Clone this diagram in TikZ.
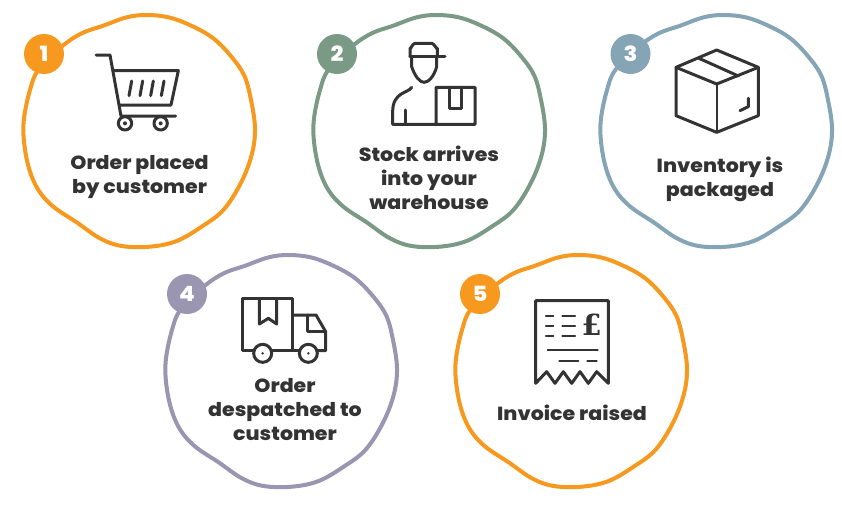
\documentclass[tikz,border=0pt]{standalone}
\usepackage{fontspec}
\setmainfont{Poppins}[BoldFont={Poppins ExtraBold},BoldFeatures={FakeStretch=1.08}]
\newfontfamily\poundfont{DejaVu Serif}
\definecolor{cOrange}{HTML}{F7981F}
\definecolor{cGreen}{HTML}{7A9A86}
\definecolor{cBlue}{HTML}{85A4B6}
\definecolor{cPurple}{HTML}{9A95B0}
\definecolor{cDark}{HTML}{333333}
\newcommand{\blobpath}{plot[smooth cycle,tension=0.6] coordinates {(155,125)(215,85)(280,62)(350,37)(410,30)(480,38)(550,65)(610,100)(660,150)(702,210)(722,280)(735,370)(725,450)(692,535)(640,615)(575,665)(500,708)(420,725)(335,723)(270,700)(200,652)(130,605)(85,555)(57,490)(42,410)(42,340)(60,255)(85,195)}}
\tikzset{
  px/.style={x=1pt,y=-1pt},
  zm/.style={x=0.33333pt,y=-0.33333pt},
  blobline/.style={line width=4pt,line join=round},
  icon/.style={draw=cDark,line width=3pt,line join=round,line cap=round},
  thin icon/.style={draw=cDark,line width=2.2pt,line join=round,line cap=round},
  label/.style={text=cDark,align=center,font=\fontsize{19}{24}\selectfont\bfseries,inner sep=0pt},
  badge/.style={circle,minimum size=40pt,inner sep=0pt,text=white,font=\fontsize{21}{21}\selectfont\bfseries}
}
\begin{document}
\begin{tikzpicture}[px]
\useasboundingbox (0,0) rectangle (842,506);
% blobs
\draw[zm,xshift=10pt,yshift=-5pt,blobline,cOrange] \blobpath;
\draw[zm,xshift=300pt,yshift=-5pt,blobline,cGreen] \blobpath;
\draw[zm,xshift=587pt,yshift=-5pt,blobline,cBlue] \blobpath;
\draw[zm,xshift=152pt,yshift=-245pt,blobline,cPurple] \blobpath;
\draw[zm,xshift=442pt,yshift=-245pt,blobline,cOrange] \blobpath;
% badges
\node[badge,fill=cOrange] (b1) at (44,54) {1};
\node[badge,fill=cGreen] (b2) at (337,54) {2};
\node[badge,fill=cBlue] (b3) at (630.5,54) {3};
\node[badge,fill=cPurple] (b4) at (187,294) {4};
\node[badge,fill=cOrange] (b5) at (480,294) {5};
% labels
\node[label] (t1) at (139.5,177.5) {Order placed\\by customer};
\node[label] (t2) at (429,178) {Stock arrives\\into your\\warehouse};
\node[label] (t3) at (720,179.5) {Inventory is\\packaged};
\node[label] (t4) at (285,410) {Order\\despatched to\\customer};
\node[label] (t5) at (572,413) {Invoice raised};
% cart
\begin{scope}[zm,xshift=10pt,yshift=-5pt]
\draw[icon] (258,150)--(300,150)--(333,333)--(497,333);
\draw[icon] (310,197)--(505,197)--(483,300)--(330,300);
\foreach \a in {365,398,430,462} \draw[icon] (\a,228)--(\a-8,272);
\foreach \a in {345,452} {\draw[icon,fill=white] (\a,355) circle (20); \fill[cDark] (\a,355) circle (6);}
\end{scope}
% worker
\begin{scope}[zm,xshift=300pt,yshift=-5pt]
\draw[icon] (330,155)--(330,130) to[out=-90,in=180] (345,115)--(395,115) to[out=0,in=-90] (412,130)--(412,155);
\draw[icon] (330,155)--(435,155);
\draw[icon] (335,155)--(335,185) .. controls (345,215) and (360,232) .. (372,232) .. controls (385,232) and (402,215) .. (410,185)--(410,155);
\draw[icon] (335,247) .. controls (325,265) and (278,260) .. (278,320)--(278,358)--(525,358)--(525,247)--(408,247)--(408,358);
\draw[icon] (317,315)--(317,358);
\draw[icon] (447,247)--(447,310)--(485,310)--(485,247);
\end{scope}
% box
\begin{scope}[zm,xshift=590pt,yshift=-5pt]
\draw[icon] (380,135)--(505,187)--(505,332)--(380,382)--(258,332)--(258,187)--cycle;
\draw[icon] (258,187)--(380,237)--(505,187);
\draw[thin icon] (380,237)--(380,382);
\draw[icon] (327,160)--(445,213);
\draw[icon] (475,280)--(475,305)--(450,317);
\end{scope}
% truck
\begin{scope}[zm,xshift=155pt,yshift=-250pt]
\draw[icon] (297,302)--(263,302)--(263,145)--(413,145)--(413,302);
\draw[icon] (350,302)--(433,302);
\draw[icon] (413,195)--(483,195)--(512,245)--(512,302)--(487,302);
\draw[icon] (457,195)--(457,245)--(512,245);
\draw[icon] (313,145)--(313,222)--(340,205)--(365,222)--(365,145);
\foreach \a in {323,460} {\draw[icon] (\a,310) circle (27); \fill[cDark] (\a,310) circle (4);}
\end{scope}
% receipt
\begin{scope}[zm,xshift=445pt,yshift=-250pt]
\draw[icon] (272,400)--(272,152)--(490,152)--(490,400)--(455,365)--(430,400)--(405,365)--(380,400)--(355,365)--(330,400)--(305,365)--cycle;
\foreach \b in {197,228,257} {\draw[thin icon] (303,\b)--(325,\b); \draw[thin icon] (352,\b)--(390,\b);}
\node[text=cDark,inner sep=0pt,font=\poundfont\fontsize{29}{29}\selectfont\bfseries] (pound) at (440,224) {£};
\draw[thin icon] (308,300)--(458,300);
\draw[thin icon] (343,332)--(400,332);
\draw[thin icon] (427,332)--(455,332);
\end{scope}
\end{tikzpicture}
\end{document}
